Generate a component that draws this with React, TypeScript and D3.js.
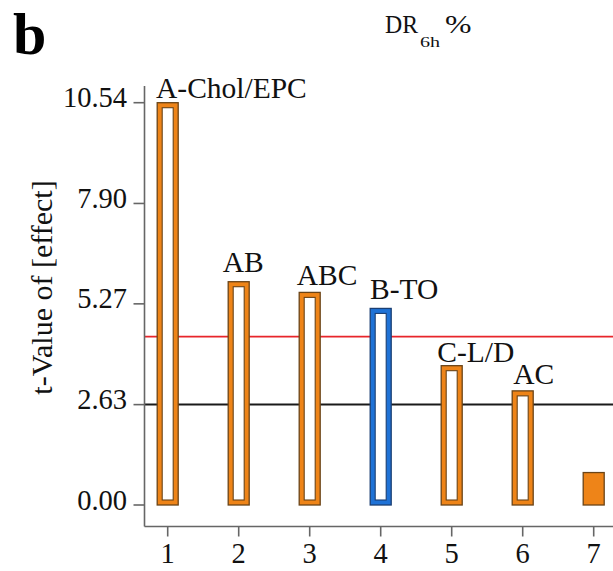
import React from "react";
import * as d3 from "d3";

const categories = [1, 2, 3, 4, 5, 6, 7];
const values = [10.54, 5.85, 5.57, 5.15, 3.65, 2.99, 0.85];
const barLabels = ["A-Chol/EPC", "AB", "ABC", "B-TO", "C-L/D", "AC", ""];
const barGroup = ["orange", "orange", "orange", "blue", "orange", "orange", "orange"];
const barFilled = [false, false, false, false, false, false, true];
const yTicks = [0, 2.63, 5.27, 7.9, 10.54];
const redLimit = 4.41;
const blackLimit = 2.63;

// layout nudges for labels (px)
const labelDx = [-11.7, -16, -13, -10.7, -14.4, -9.4, 0];
const labelDy = [-4.7, -9.7, -7.3, -9, -4, -7, 0];

const W = 613;
const H = 571;
const axisX = 144.5;
const axisY = 526.5;
const FONT = '"Liberation Serif", "Times New Roman", Times, serif';

const fillColors: Record<string, string> = { orange: "#EE8418", blue: "#1F72D6" };
const strokeColors: Record<string, string> = { orange: "#6a4418", blue: "#1b3f73" };

const tStyle = { fontFamily: FONT };

export default function App() {
  const x = d3.scaleLinear().domain([1, 7]).range([167.7, 593.7]);
  const y = d3.scaleLinear().domain([0, 10.54]).range([505, 102.7]);
  const bw = 21;
  const ring = 5;

  return (
    <svg
      width={W}
      height={H}
      style={{ position: "absolute", left: 0, top: 0, background: "#fff", fontFamily: FONT }}
    >
      <rect x={0} y={0} width={W} height={H} fill="#fff" />
      <text x={13} y={54} fontSize={60} fontWeight="bold" fill="#000" style={tStyle}>
        b
      </text>
      <text
        x={385}
        y={33.3}
        fontSize={24.5}
        fill="#111"
        style={tStyle}
        textLength={33}
        lengthAdjust="spacingAndGlyphs"
      >
        DR
      </text>
      <text
        x={420}
        y={46.7}
        fontSize={15.5}
        fill="#111"
        style={tStyle}
        textLength={20}
        lengthAdjust="spacingAndGlyphs"
      >
        6h
      </text>
      <text
        x={445}
        y={33.3}
        fontSize={25}
        fill="#111"
        style={tStyle}
        textLength={26.5}
        lengthAdjust="spacingAndGlyphs"
      >
        %
      </text>

      <text
        transform={`translate(52,287.5) rotate(-90)`}
        textAnchor="middle"
        fontSize={30}
        fill="#111"
        style={tStyle}
      >
        t-Value of [effect]
      </text>

      {/* threshold lines */}
      <line x1={axisX} x2={W} y1={y(redLimit)} y2={y(redLimit)} stroke="#e8252b" strokeWidth={1.8} />
      <line x1={axisX} x2={W} y1={y(blackLimit)} y2={y(blackLimit)} stroke="#1a1a1a" strokeWidth={2} />

      {/* axes */}
      <line x1={axisX} x2={axisX} y1={86} y2={axisY} stroke="#666" strokeWidth={1.6} />
      <line x1={axisX} x2={W} y1={axisY} y2={axisY} stroke="#666" strokeWidth={1.6} />
      {yTicks.map((t) => (
        <g key={t}>
          <line x1={axisX - 11} x2={axisX} y1={y(t)} y2={y(t)} stroke="#666" strokeWidth={1.6} />
          <text x={127} y={y(t) + 4.6} textAnchor="end" fontSize={28.5} fill="#111" style={tStyle}>
            {t.toFixed(2)}
          </text>
        </g>
      ))}
      {categories.map((c) => (
        <g key={c}>
          <line x1={x(c)} x2={x(c)} y1={axisY} y2={axisY + 10} stroke="#666" strokeWidth={1.6} />
          <text x={x(c)} y={563} textAnchor="middle" fontSize={28.5} fill="#111" style={tStyle}>
            {c}
          </text>
        </g>
      ))}

      {/* bars */}
      {categories.map((c, i) => {
        const v = values[i];
        const top = y(v);
        const h = y(0) - top;
        const xl = x(c) - bw / 2;
        const g = barGroup[i];
        return (
          <g key={c}>
            <rect
              x={xl}
              y={top}
              width={bw}
              height={h}
              fill={fillColors[g]}
              stroke={strokeColors[g]}
              strokeWidth={1.3}
            />
            {!barFilled[i] && (
              <rect
                x={xl + ring}
                y={top + ring}
                width={bw - 2 * ring}
                height={Math.max(0, h - 2 * ring)}
                fill="#fff"
                stroke={strokeColors[g]}
                strokeWidth={1.1}
              />
            )}
            {barLabels[i] && (
              <text
                x={x(c) + labelDx[i]}
                y={top + labelDy[i]}
                fontSize={29.5}
                fill="#111"
                style={tStyle}
              >
                {barLabels[i]}
              </text>
            )}
          </g>
        );
      })}
    </svg>
  );
}
